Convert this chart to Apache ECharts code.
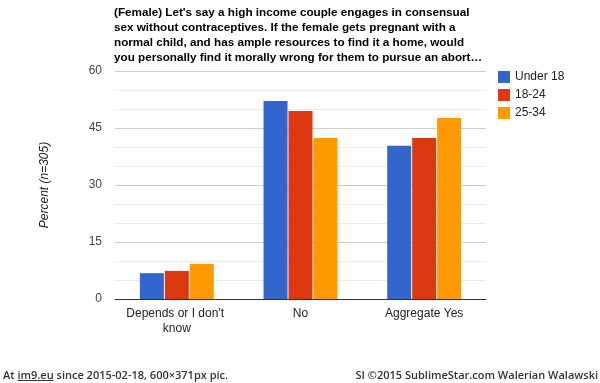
<!DOCTYPE html>
<html>
<head>
<meta charset="utf-8">
<script src="https://cdn.jsdelivr.net/npm/echarts@6/dist/echarts.min.js"></script>
<style>
html,body{margin:0;padding:0;background:#fff;}
#wrap{position:relative;width:600px;height:383px;overflow:hidden;}
#chart{position:absolute;left:0;top:0;width:600px;height:383px;}
.foot{position:absolute;top:368px;font-family:"Open Sans",sans-serif;font-weight:600;font-size:11px;color:#333;white-space:nowrap;line-height:14px;}
</style>
</head>
<body>
<div id="wrap">
<div id="chart"></div>
<div class="foot" style="left:3px;">At <span style="text-decoration:underline">im9.eu</span> since 2015-02-18, 600×371px pic.</div>
<div class="foot" style="right:2px;">SI ©2015 SublimeStar.com Walerian Walawski</div>
</div>
<script>
var titleLines = [
  "(Female) Let's say a high income couple engages in consensual",
  "sex without contraceptives. If the female gets pregnant with a",
  "normal child, and has ample resources to find it a home, would",
  "you personally find it morally wrong for them to pursue an abort…"
];
var categories = ["Depends or I don't know", "No", "Aggregate Yes"];
var seriesNames = ["Under 18", "18-24", "25-34"];
var under18 = [6.8, 52.1, 40.3];
var age18to24 = [7.4, 49.5, 42.4];
var age25to34 = [9.2, 42.4, 47.6];
var yTicks = [0, 15, 30, 45, 60];
var colors = ["#3366cc", "#dc3912", "#ff9900"];
var values = [under18, age18to24, age25to34];

var chart = echarts.init(document.getElementById('chart'), null, {renderer: 'canvas'});
var font = 'Arial, "Liberation Sans", sans-serif';
chart.setOption({
  backgroundColor: '#ffffff',
  animation: false,
  color: colors,
  title: {
    text: titleLines.join('\n'),
    left: 114,
    top: 5,
    padding: 0,
    textStyle: {fontFamily: font, fontSize: 11.7, fontWeight: 'bold', color: '#000', lineHeight: 15}
  },
  legend: {
    orient: 'vertical',
    left: 498,
    top: 71,
    padding: 0,
    itemWidth: 12,
    itemHeight: 12,
    itemGap: 6,
    icon: 'rect',
    textStyle: {fontFamily: font, fontSize: 12, color: '#222'},
    data: seriesNames
  },
  grid: {left: 115, right: 114, top: 71, bottom: 84, containLabel: false},
  xAxis: {
    type: 'category',
    data: categories,
    axisLine: {lineStyle: {color: '#333', width: 1}},
    axisTick: {show: false},
    axisLabel: {
      fontFamily: font, fontSize: 12, color: '#222', margin: 7, lineHeight: 15,
      width: 110, overflow: 'break', interval: 0
    }
  },
  yAxis: {
    type: 'value',
    min: yTicks[0],
    max: yTicks[yTicks.length - 1],
    interval: yTicks[1] - yTicks[0],
    name: 'Percent (n=305)',
    nameLocation: 'middle',
    nameGap: 64,
    nameTextStyle: {fontFamily: font, fontSize: 12, fontStyle: 'italic', color: '#222'},
    axisLine: {show: false},
    axisTick: {show: false},
    axisLabel: {fontFamily: font, fontSize: 12, color: '#444', margin: 13},
    splitLine: {lineStyle: {color: '#cccccc'}},
    minorTick: {show: false, splitNumber: 3},
    minorSplitLine: {show: true, lineStyle: {color: '#ebebeb'}}
  },
  series: seriesNames.map(function (n, i) {
    return {
      name: n,
      type: 'bar',
      data: values[i],
      barWidth: 24,
      barGap: '4%',
      itemStyle: {color: colors[i]}
    };
  })
});
</script>
</body>
</html>
